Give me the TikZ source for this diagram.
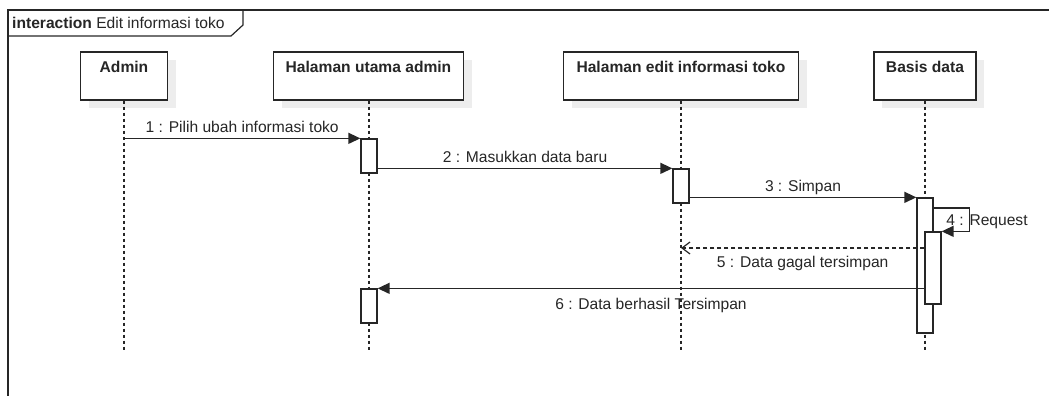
\documentclass[tikz,border=0pt]{standalone}
\usepackage{fontspec}
\setmainfont{Liberation Sans}
\usetikzlibrary{arrows.meta,shadows,positioning,calc}
\definecolor{umlgray}{HTML}{262626}

\begin{document}
\begin{tikzpicture}[x=1pt,y=-1pt,color=umlgray,
  font=\fontsize{15.6}{18}\selectfont,
  frame/.style={draw=umlgray,line width=1.2pt},
  lifebox/.style={draw=umlgray,fill=white,line width=1.3pt,minimum height=48pt,inner sep=0pt,
    drop shadow={shadow xshift=8pt,shadow yshift=-8pt,fill=black!7,opacity=1}},
  boxtitle/.style={font=\fontsize{15.6}{18}\selectfont\bfseries,anchor=north,inner sep=0pt,yshift=-10pt},
  lifeline/.style={draw=umlgray,line width=1.2pt,dash pattern=on 3pt off 3pt},
  act/.style={draw=umlgray,fill=white,line width=1.3pt,minimum width=16pt,inner sep=0pt},
  msg/.style={draw=umlgray,line width=1.4pt,-{Triangle[length=12pt,width=11pt]}},
  reply/.style={draw=umlgray,line width=1.2pt,dash pattern=on 4pt off 3pt,-{Straight Barb[length=8pt,width=12pt]}},
  msglabel/.style={text height=11pt,text depth=3pt,inner sep=2pt}]
  \useasboundingbox (0,0) rectangle (1049,396);

  % frame and title tab
  \draw[frame] (8,396) -- (8,10) -- (1049,10);
  \draw[frame] (8,36) -- (231,36) -- (243,25) -- (243,10);
  \node[anchor=west,inner sep=2pt] (title) at (10,23) {\textbf{interaction} Edit informasi toko};

  % lifelines
  \node[lifebox,minimum width=87pt,label={[boxtitle]north:Admin}] (admin) at (124,76) {};
  \node[lifebox,minimum width=190pt,label={[boxtitle]north:Halaman utama admin}] (utama) at (368.5,76) {};
  \node[lifebox,minimum width=235pt,label={[boxtitle]north:Halaman edit informasi toko}] (edit) at (681,76) {};
  \node[lifebox,minimum width=102pt,label={[boxtitle]north:Basis data}] (basis) at (925,76) {};

  \coordinate (adminEnd) at (124,352);
  \coordinate (utamaEnd) at (369,352);
  \coordinate (editEnd) at (681,352);
  \coordinate (basisEnd) at (925,352);
  \draw[lifeline] (admin.south) -- (adminEnd);
  \draw[lifeline] (utama.south -| utamaEnd) -- (utamaEnd);
  \draw[lifeline] (edit.south) -- (editEnd);
  \draw[lifeline] (basis.south) -- (basisEnd);

  % activations
  \node[act,minimum height=34pt] (actU1) at (369,156) {};
  \node[act,minimum height=34pt] (actE) at (681,186) {};
  \node[act,minimum height=135pt] (actB) at (925,265.5) {};
  \node[act,minimum height=72pt] (actB2) at (933,268) {};
  \node[act,minimum height=34pt] (actU2) at (369,306) {};

  % messages
  \coordinate (m1) at (adminEnd |- actU1.north);
  \coordinate (m5) at (681,248);
  \path
    (m1) edge[msg] node[msglabel,above] {1 : Pilih ubah informasi toko} (actU1.north west)
    (actU1.east |- actE.north) edge[msg] node[msglabel,above] {2 : Masukkan data baru} (actE.north west)
    (actE.east |- actB.north) edge[msg] node[msglabel,above] {3 : Simpan} (actB.north west)
    (actB2.west |- m5) edge[reply] node[msglabel,below=6pt] {5 : Data gagal tersimpan} (m5)
    (actB2.west |- actU2.north) edge[msg] node[msglabel,below=7pt] {6 : Data berhasil Tersimpan} (actU2.north east);

  \coordinate (m4) at (actB.east |- 0,208);
  \draw[msg] (m4) -- ++(36,0) |- (actB2.north east);
  \node[msglabel] (m4label) at (987,221) {4 : Request};
\end{tikzpicture}
\end{document}
